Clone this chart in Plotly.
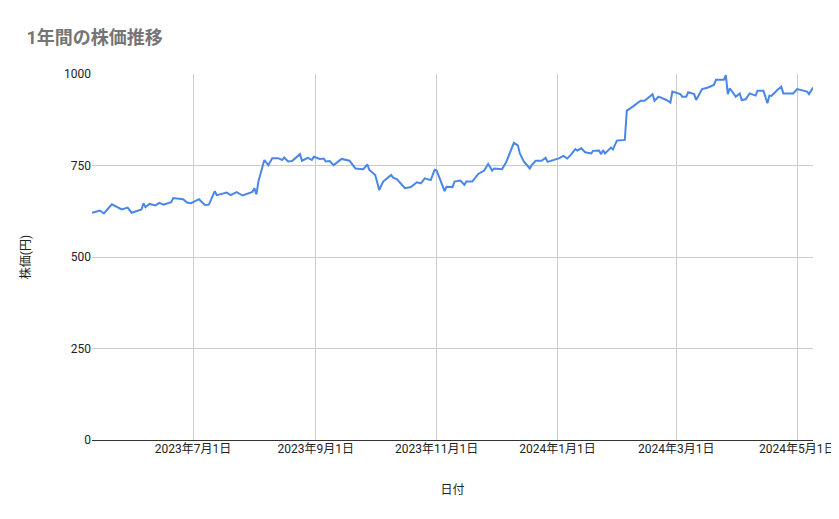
import plotly.graph_objects as go

dates = [
"2023-05-11","2023-05-15","2023-05-17","2023-05-21","2023-05-26","2023-05-29","2023-05-31","2023-06-05","2023-06-06","2023-06-07",
"2023-06-09","2023-06-12","2023-06-14","2023-06-16","2023-06-20","2023-06-21","2023-06-26","2023-06-28","2023-06-30","2023-07-04",
"2023-07-07","2023-07-09","2023-07-12","2023-07-13","2023-07-18","2023-07-20","2023-07-23","2023-07-26","2023-07-31","2023-08-01",
"2023-08-02","2023-08-03","2023-08-06","2023-08-08","2023-08-10","2023-08-13","2023-08-15","2023-08-16","2023-08-18","2023-08-20",
"2023-08-24","2023-08-25","2023-08-28","2023-08-30","2023-08-31","2023-09-03","2023-09-05","2023-09-06","2023-09-08","2023-09-10",
"2023-09-14","2023-09-18","2023-09-21","2023-09-25","2023-09-27","2023-09-28","2023-10-01","2023-10-03","2023-10-05","2023-10-09",
"2023-10-10","2023-10-12","2023-10-16","2023-10-19","2023-10-22","2023-10-24","2023-10-26","2023-10-29","2023-10-31","2023-11-01",
"2023-11-05","2023-11-06","2023-11-09","2023-11-10","2023-11-13","2023-11-15","2023-11-16","2023-11-19","2023-11-22","2023-11-25",
"2023-11-27","2023-11-29","2023-11-30","2023-12-04","2023-12-06","2023-12-07","2023-12-10","2023-12-12","2023-12-13","2023-12-15",
"2023-12-18","2023-12-19","2023-12-21","2023-12-24","2023-12-26","2023-12-27","2023-12-30","2024-01-02","2024-01-04","2024-01-06",
"2024-01-08","2024-01-10","2024-01-11","2024-01-13","2024-01-15","2024-01-18","2024-01-19","2024-01-22","2024-01-23","2024-01-24",
"2024-01-25","2024-01-28","2024-01-29","2024-01-31","2024-02-04","2024-02-05","2024-02-08","2024-02-12","2024-02-14","2024-02-18",
"2024-02-19","2024-02-21","2024-02-25","2024-02-27","2024-02-28","2024-03-03","2024-03-04","2024-03-06","2024-03-07","2024-03-10",
"2024-03-11","2024-03-14","2024-03-17","2024-03-20","2024-03-21","2024-03-25","2024-03-26","2024-03-27","2024-03-28","2024-03-31",
"2024-04-02","2024-04-03","2024-04-05","2024-04-07","2024-04-10","2024-04-11","2024-04-14","2024-04-16","2024-04-17","2024-04-18",
"2024-04-21","2024-04-23","2024-04-24","2024-04-29","2024-05-01","2024-05-06","2024-05-07","2024-05-09"]

prices = [
621,627,619,644,630,635,621,630,647,636,
645,641,648,643,650,661,658,649,647,658,
642,643,680,669,676,669,677,668,678,688,
671,706,765,751,770,770,765,772,761,762,
781,763,771,765,774,768,769,761,762,751,
768,763,742,740,753,738,724,683,706,724,
717,712,688,691,704,701,715,710,738,736,
680,692,691,706,709,697,706,706,727,736,
754,736,742,740,758,771,812,805,783,761,
742,751,763,763,771,760,765,770,776,769,
781,795,791,797,786,783,790,791,781,792,
783,799,794,818,820,900,911,927,927,945,
927,938,929,922,952,945,938,938,950,945,
929,959,963,970,984,984,997,945,961,938,
947,929,931,947,941,954,954,920,941,940,
956,965,947,947,959,952,945,963]

tick_vals = ["2023-07-01","2023-09-01","2023-11-01","2024-01-01","2024-03-01","2024-05-01"]
tick_text = ["2023年7月1日","2023年9月1日","2023年11月1日","2024年1月1日","2024年3月1日","2024年5月1日"]
y_ticks = [0, 250, 500, 750, 1000]

fig = go.Figure(go.Scatter(x=dates, y=prices, mode="lines",
                           line=dict(color="#4a86e8", width=2)))
fig.update_layout(
    width=839, height=519,
    margin=dict(l=84, r=34, t=66, b=87),
    paper_bgcolor="white", plot_bgcolor="white",
    font=dict(family="Roboto, Noto Sans CJK JP", size=12, color="#222"),
    title=dict(text="<b>1年間の株価推移</b>", x=0.022, xanchor="left", y=0.955, yanchor="top",
               font=dict(size=18, color="#757575", family="Roboto, Noto Sans CJK JP")),
    showlegend=False,
    xaxis=dict(range=["2023-05-11", "2024-05-09"], tickvals=tick_vals, ticktext=tick_text,
               showgrid=True, gridcolor="#cccccc", showline=False, ticks="",
               title=dict(text="日付", font=dict(size=12, color="#222"), standoff=30)),
    yaxis=dict(range=[0, 1000], tickvals=y_ticks, showgrid=True, gridcolor="#cccccc",
               zeroline=True, zerolinecolor="#333333", zerolinewidth=1, ticks="",
               title=dict(text="株価(円)", font=dict(size=12, color="#222"), standoff=30)),
)
fig.write_html("out.html")
